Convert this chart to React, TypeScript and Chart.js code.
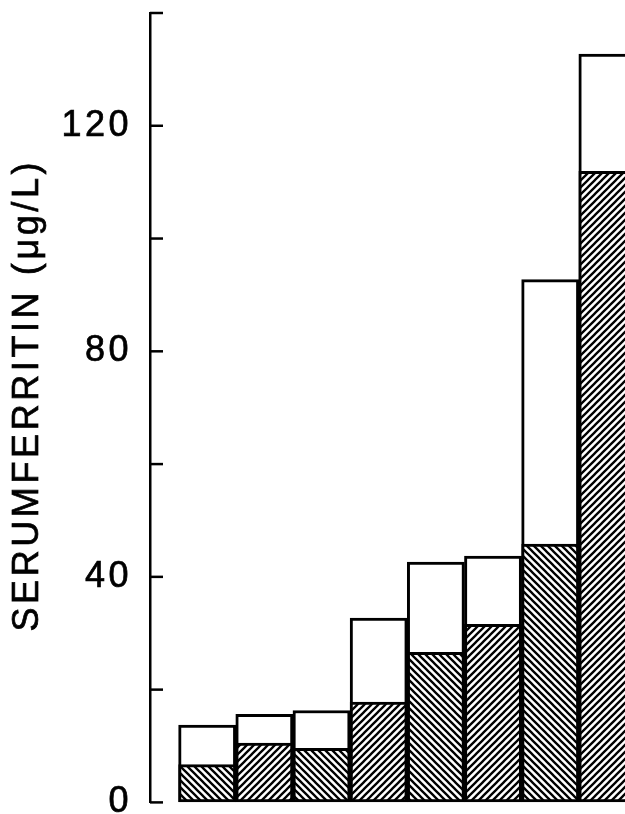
import React, { useEffect, useRef } from 'react';
import { Chart, registerables } from 'chart.js';

Chart.register(...registerables);

const categories = ['1', '2', '3', '4', '5', '6', '7', '8'];
const totalFerritin = [13.7, 15.6, 16.3, 32.7, 42.6, 43.7, 92.7, 132.7];
const hatchedFerritin = [6.7, 10.5, 9.6, 17.8, 26.6, 31.6, 45.8, 111.9];
const yMin = 0;
const yMax = 140;
const yStep = 20;
const labelledTicks = [0, 40, 80, 120];
const axisTitle = 'SERUMFERRITIN (μg/L)';

const FONT = '"Liberation Sans", Arial, sans-serif';

function makeHatch(ctx: CanvasRenderingContext2D, dir: 'fwd' | 'back') {
  const s = 7;
  const c = document.createElement('canvas');
  c.width = s;
  c.height = s;
  const g = c.getContext('2d')!;
  g.fillStyle = '#fff';
  g.fillRect(0, 0, s, s);
  g.strokeStyle = '#000';
  g.lineWidth = 2.3;
  g.beginPath();
  if (dir === 'fwd') {
    g.moveTo(0, s); g.lineTo(s, 0);
    g.moveTo(-s, s); g.lineTo(s, -s);
    g.moveTo(0, 2 * s); g.lineTo(2 * s, 0);
  } else {
    g.moveTo(0, 0); g.lineTo(s, s);
    g.moveTo(0, -s); g.lineTo(2 * s, s);
    g.moveTo(-s, 0); g.lineTo(s, 2 * s);
  }
  g.stroke();
  return ctx.createPattern(c, 'repeat')!;
}

const axisMarks = {
  id: 'axisMarks',
  beforeDraw(chart: any) {
    chart.ctx.letterSpacing = '3.5px';
  },
  afterDraw(chart: any) {
    const y = chart.scales.y;
    const ctx: CanvasRenderingContext2D = chart.ctx;
    ctx.save();
    ctx.strokeStyle = '#000';
    ctx.lineWidth = 2.5;
    y.ticks.forEach((t: any) => {
      const py = y.getPixelForValue(t.value);
      ctx.beginPath();
      ctx.moveTo(y.right, py);
      ctx.lineTo(y.right + 13, py);
      ctx.stroke();
    });
    const { top, bottom } = chart.chartArea;
    ctx.font = `36px ${FONT}`;
    (ctx as any).letterSpacing = '3.6px';
    ctx.fillStyle = '#000';
    ctx.strokeStyle = '#000';
    ctx.lineWidth = 0.7;
    ctx.textAlign = 'center';
    ctx.textBaseline = 'middle';
    ctx.translate(28.5, (top + bottom) / 2 - 12.5);
    ctx.rotate(-Math.PI / 2);
    ctx.fillText(axisTitle, 0, 0);
    ctx.strokeText(axisTitle, 0, 0);
    ctx.restore();
  },
};

export default function App() {
  const ref = useRef<HTMLCanvasElement>(null);
  useEffect(() => {
    const canvas = ref.current!;
    const ctx = canvas.getContext('2d')!;
    const fwd = makeHatch(ctx, 'fwd');
    const back = makeHatch(ctx, 'back');
    const hatchFills = categories.map((_, i) => (i % 2 === 0 ? back : fwd));
    const chart = new Chart(canvas, {
      type: 'bar',
      data: {
        labels: categories,
        datasets: [
          {
            label: 'hatched',
            data: hatchedFerritin.map((v, i) => ({ x: i, y: v })),
            backgroundColor: hatchFills,
            borderColor: '#000',
            borderWidth: 3,
            borderSkipped: false,
            grouped: false,
            order: 0,
            barPercentage: 1,
            categoryPercentage: 1,
          } as any,
          {
            label: 'total',
            data: totalFerritin.map((v, i) => ({ x: i, y: v })),
            backgroundColor: '#fff',
            borderColor: '#000',
            borderWidth: 3,
            borderSkipped: false,
            grouped: false,
            order: 1,
            barPercentage: 1,
            categoryPercentage: 1,
          } as any,
        ],
      },
      options: {
        animation: false,
        responsive: false,
        events: [],
        layout: { padding: { left: 0, right: 0, top: 43, bottom: 28 } },
        plugins: { legend: { display: false }, tooltip: { enabled: false } },
        scales: {
          x: {
            type: 'linear',
            display: false,
            offset: false,
            min: -1,
            max: 8.27,
          },
          y: {
            min: yMin,
            max: yMax,
            afterFit(scale: any) {
              scale.width = 150;
            },
            grid: { display: true, drawOnChartArea: false, drawTicks: false },
            border: { display: true, color: '#000', width: 2.5 },
            ticks: {
              stepSize: yStep,
              padding: 18,
              color: '#000',
              font: { family: FONT, size: 36, lineHeight: 1.2 },
              textStrokeColor: '#000',
              textStrokeWidth: 0.7,
              callback: (v: any) => (labelledTicks.includes(Number(v)) ? String(v) : ''),
            },
          },
        },
      } as any,
      plugins: [axisMarks],
    });
    return () => chart.destroy();
  }, []);
  return (
    <div style={{ position: 'fixed', left: 0, top: 0, width: 625, height: 814, overflow: 'hidden', background: '#fff' }}>
      <canvas
        ref={ref}
        width={680}
        height={872}
        style={{ position: 'absolute', left: 0, top: -30, width: 680, height: 872 }}
      />
    </div>
  );
}
